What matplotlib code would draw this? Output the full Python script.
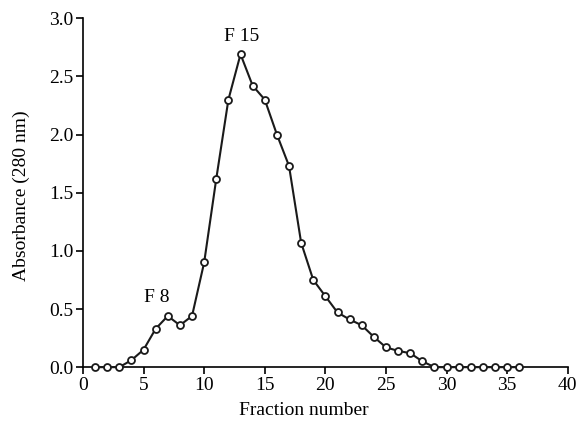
import matplotlib
matplotlib.use("Agg")
import matplotlib.pyplot as plt

fractions = list(range(1, 37))
absorbance = [0.0, 0.0, 0.0, 0.06, 0.15, 0.33, 0.44, 0.36, 0.44, 0.90,
              1.62, 2.30, 2.69, 2.42, 2.30, 2.00, 1.73, 1.07, 0.75, 0.61,
              0.47, 0.41, 0.36, 0.26, 0.17, 0.14, 0.12, 0.05, 0.0, 0.0,
              0.0, 0.0, 0.0, 0.0, 0.0, 0.0]
xticks = [0, 5, 10, 15, 20, 25, 30, 35, 40]
yticks = [0.0, 0.5, 1.0, 1.5, 2.0, 2.5, 3.0]
annotations = [("F 8", 7, 0.44, -11), ("F 15", 13, 2.69, 1)]

plt.rcParams['font.family'] = ['Liberation Serif', 'DejaVu Serif']
fig = plt.figure(figsize=(5.8, 4.23), dpi=100)
ax = fig.add_axes([0.143, 0.132, 0.836, 0.825])
ax.plot(fractions, absorbance, color='#1a1a1a', lw=1.5, marker='o', ms=5,
        mfc='white', mec='#1a1a1a', mew=1.3, clip_on=False, zorder=3)
ax.set_xlim(0, 40)
ax.set_ylim(0, 3.0)
ax.set_xticks(xticks)
ax.set_yticks(yticks)
ax.set_yticklabels([f"{v:.1f}" for v in yticks])
for s in ['top', 'right']:
    ax.spines[s].set_visible(False)
for s in ['left', 'bottom']:
    ax.spines[s].set_linewidth(1.2)
ax.tick_params(direction='out', length=5, width=1.2, labelsize=14, pad=2)
ax.set_xlabel("Fraction number", fontsize=14)
ax.set_ylabel("Absorbance (280 nm)", fontsize=14)
ax.xaxis.set_label_coords(0.456, -0.10)
ax.yaxis.set_label_coords(-0.11, 0.49)
for txt, x, y, dx in annotations:
    ax.annotate(txt, (x, y), xytext=(dx * 0.72, 7), textcoords='offset points',
                ha='center', va='bottom', fontsize=14)
ax.patch.set_visible(False)
fig.savefig("out.png", dpi=100)
